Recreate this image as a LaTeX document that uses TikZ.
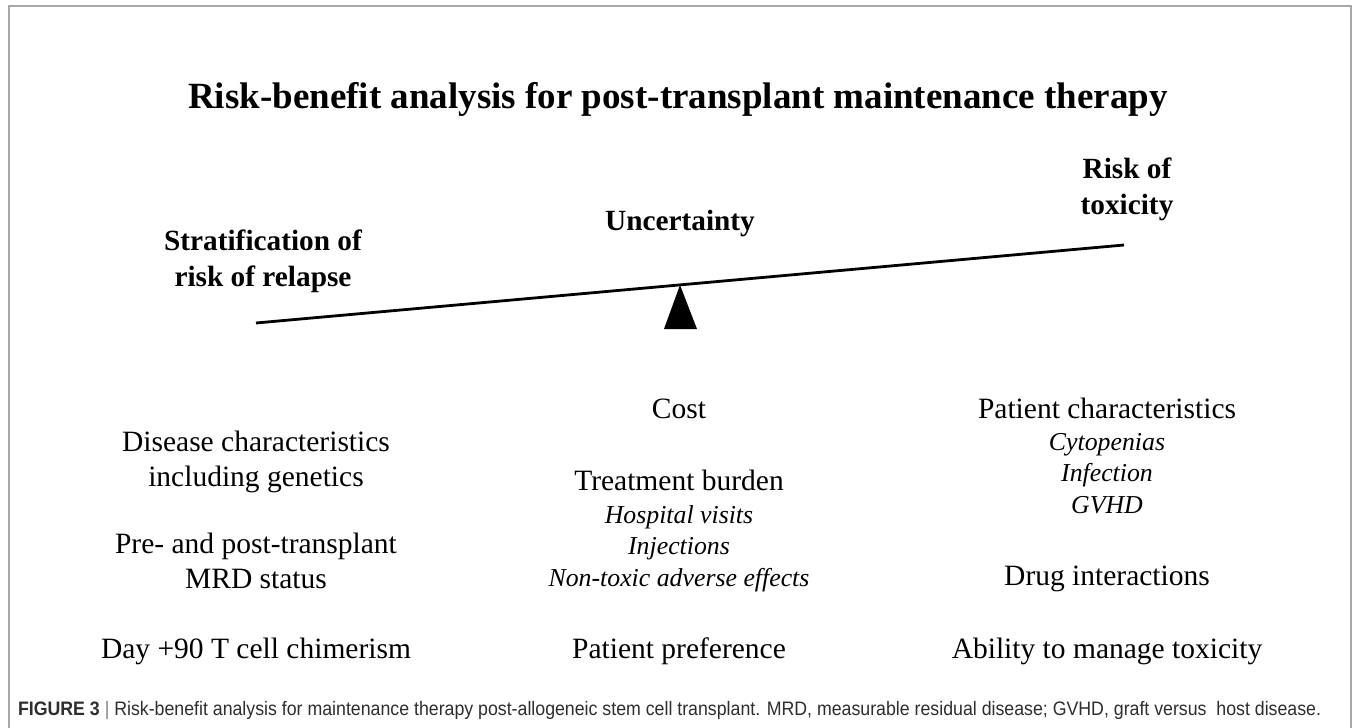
\documentclass[tikz,border=0pt]{standalone}
\usepackage{fontspec}
\setmainfont{Liberation Serif}
\newfontfamily\capfont[FakeStretch=0.91]{Liberation Sans}
\definecolor{framegray}{HTML}{A8A8A8}
\definecolor{captext}{HTML}{2E2E2E}
\begin{document}
\begin{tikzpicture}[x=1pt,y=-1pt,
  every node/.style={inner sep=0pt, outer sep=0pt},
  % multi-line nodes are anchored on the baseline of their last line
  titletext/.style={font=\fontsize{37}{44}\selectfont\bfseries, anchor=base},
  headtext/.style={font=\fontsize{29.3}{36}\selectfont\bfseries, align=center, anchor=base},
  itemtext/.style={font=\fontsize{29.5}{35}\selectfont, align=center, anchor=base},
  subtext/.style={font=\fontsize{25.8}{31.5}\selectfont\itshape, align=center, anchor=base},
  captiontext/.style={font=\capfont\fontsize{19.5}{22}\selectfont, text=captext, anchor=base west},
  beam/.style={line width=2.8pt, line cap=butt},
  fulcrum/.style={fill=black, draw=none}
]
\useasboundingbox (0,0) rectangle (1357,728);
\fill[white] (0,0) rectangle (1357,728);

% frame open at the bottom
\draw[framegray, line width=1.3pt] (9,728) -- (9,6) -- (1351,6) -- (1351,728);

% title
\node[titletext] (title) at (678,108) {Risk-benefit analysis for post-transplant maintenance therapy};

% see-saw
\coordinate (beamL) at (256,323);
\coordinate (beamR) at (1124,245);
\coordinate (pivot) at (680,285);
\draw[beam] (beamL) -- (beamR);
\fill[fulcrum] (pivot) -- (697,329) -- (664,329) -- cycle;

% headings
\node[headtext] (strat) at (263,286) {Stratification of\\risk of relapse};
\node[headtext] (uncert) at (680,230) {Uncertainty};
\node[headtext] (tox) at (1127,214) {Risk of\\toxicity};

% relapse column
\node[itemtext] (disease) at (256,486) {Disease characteristics\\including genetics};
\node[itemtext] (mrd) at (256,588) {Pre- and post-transplant\\MRD status};
\node[itemtext] (chim) at (256,658) {Day +90 T cell chimerism};

% uncertainty column
\node[itemtext] (cost) at (679,418) {Cost};
\node[itemtext] (burden) at (679,490) {Treatment burden};
\node[subtext] (burdenlist) at (679,586) {Hospital visits\\Injections\\Non-toxic adverse effects};
\node[itemtext] (pref) at (679,658) {Patient preference};

% toxicity column
\node[itemtext] (patient) at (1107,418) {Patient characteristics};
\node[subtext] (patientlist) at (1107,513) {Cytopenias\\Infection\\GVHD};
\node[itemtext] (drug) at (1107,585) {Drug interactions};
\node[itemtext] (ability) at (1107,658) {Ability to manage toxicity};

% caption
\node[captiontext] (caption) at (18,715) {\textbf{FIGURE 3} {\color{gray}|} Risk-benefit analysis for maintenance therapy post-allogeneic stem cell transplant. MRD, measurable residual disease; GVHD, graft versus~ host disease.};
\end{tikzpicture}
\end{document}
